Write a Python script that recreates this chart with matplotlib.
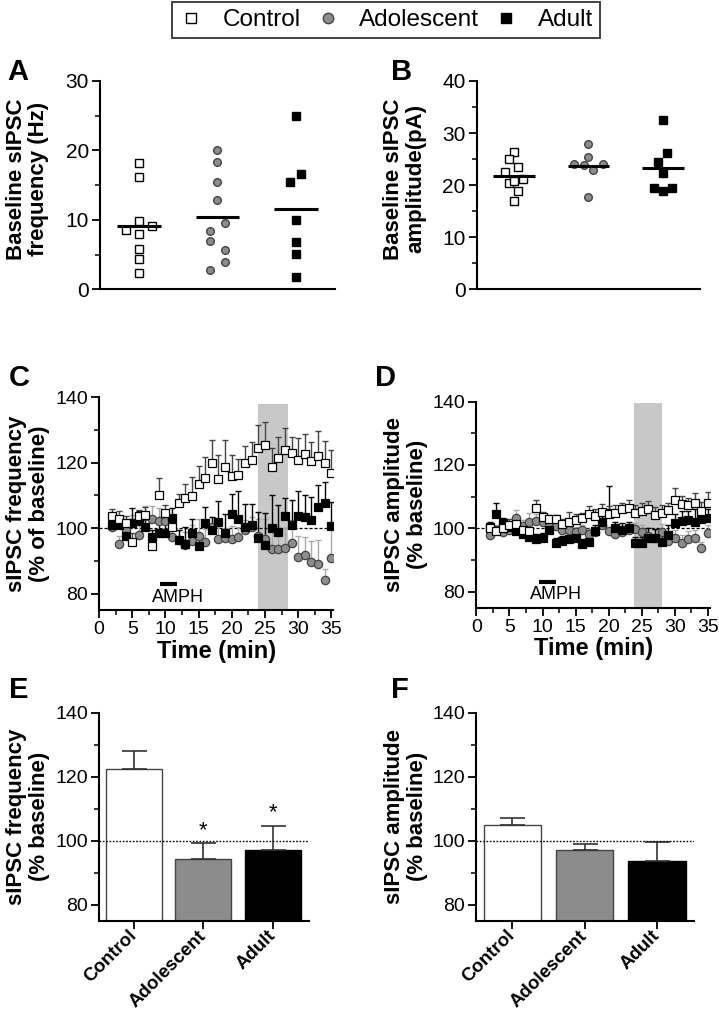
import numpy as np
import matplotlib
matplotlib.use("Agg")
import matplotlib.pyplot as plt
import matplotlib.ticker as ticker
from matplotlib.lines import Line2D

plt.rcParams["font.family"] = ["Liberation Sans", "DejaVu Sans"]

GROUPS = ["Control", "Adolescent", "Adult"]

# A: baseline frequency (Hz), per cell, with small horizontal jitter
freq_ctrl = [18.2, 16.2, 9.9, 8.6, 9.1, 7.9, 5.8, 4.4, 2.3]
freq_ctrl_dx = [0, 0, 0, -0.17, 0.17, 0, 0, 0, 0]
freq_adol = [20.0, 18.3, 15.5, 12.9, 9.5, 8.4, 7.0, 5.6, 3.9, 2.8]
freq_adol_dx = [0, 0, 0, 0, 0.09, -0.09, -0.09, 0.09, 0.09, -0.09]
freq_adul = [24.9, 16.6, 15.4, 10.0, 6.8, 5.1, 1.8]
freq_adul_dx = [0, 0.07, -0.07, 0, 0, 0, 0]

# B: baseline amplitude (pA)
amp_ctrl = [26.3, 25.0, 23.4, 22.5, 20.5, 20.8, 21.2, 18.9, 16.9]
amp_ctrl_dx = [0, -0.06, 0.06, -0.12, -0.06, 0, 0.12, 0.06, 0]
amp_adol = [27.9, 25.4, 24.1, 23.9, 24.0, 22.9, 17.8]
amp_adol_dx = [0, 0, -0.19, -0.06, 0.19, 0.06, 0]
amp_adul = [32.6, 26.1, 24.5, 22.4, 19.5, 19.4, 18.9]
amp_adul_dx = [0, 0.06, -0.06, 0, -0.12, 0.12, 0]

# C/D: time course (% baseline), one point per minute
time_min = list(range(2, 36))

c_ctrl = [103.6, 102.8, 101.6, 95.7, 103.6, 104.0, 94.5, 110.2, 104.8, 100.5, 107.7, 109.2,
          109.9, 113.5, 115.3, 119.9, 115.0, 118.8, 116.0, 116.2, 119.9, 120.9, 124.4, 125.5,
          118.7, 121.4, 123.9, 122.9, 120.7, 122.7, 120.4, 122.1, 119.9, 117.0]
c_ctrl_err = [2.4, 2.6, 2.0, 3.0, 2.0, 2.5, 3.0, 5.0, 2.4, 2.0, 2.8, 4.3, 5.6, 5.5, 6.4, 7.1,
              7.4, 8.2, 6.4, 5.0, 5.3, 5.3, 7.0, 6.8, 5.7, 6.3, 6.6, 4.8, 6.8, 6.1, 5.9, 7.6,
              6.8, 6.9]
c_adol = [100.5, 95.2, 99.5, 101.6, 98.0, 103.8, 102.8, 102.2, 102.1, 97.5, 96.5, 95.0, 96.0,
          97.7, 95.7, 100.5, 96.7, 97.0, 96.7, 97.5, 99.5, 100.3, 97.8, 96.8, 93.8, 93.8, 94.0,
          95.4, 91.4, 91.9, 89.6, 89.2, 84.3, 90.9]
c_adol_err = [2.0, 2.5, 3.0, 2.5, 3.0, 3.0, 4.0, 4.0, 3.0, 3.0, 3.0, 4.0, 5.0, 5.0, 4.0, 3.0,
              4.0, 3.0, 4.0, 3.0, 3.0, 3.0, 5.0, 6.0, 6.0, 5.0, 6.0, 7.0, 6.3, 5.6, 6.4, 7.3,
              3.3, 9.0]
c_adul = [100.9, 100.9, 97.8, 101.6, 102.2, 100.3, 97.5, 98.7, 98.7, 103.1, 96.5, 95.3, 98.7,
          94.7, 101.6, 99.5, 101.9, 98.7, 104.3, 102.8, 100.5, 101.1, 97.0, 94.8, 100.0, 99.0,
          103.8, 101.0, 103.6, 103.5, 102.6, 106.5, 107.7, 100.8]
c_adul_err = [3.0, 3.0, 3.0, 4.5, 3.0, 3.0, 2.0, 3.0, 3.0, 3.0, 3.0, 5.0, 4.0, 3.0, 5.0, 4.0,
              6.3, 5.6, 6.2, 8.7, 7.0, 6.3, 8.0, 10.0, 10.0, 8.0, 5.5, 7.6, 7.8, 6.6, 7.0, 6.8,
              6.4, 7.2]

d_ctrl = [100.0, 99.0, 100.0, 101.0, 101.2, 99.5, 99.0, 106.4, 103.6, 102.8, 102.8, 101.3,
          102.0, 102.6, 103.2, 104.5, 104.0, 105.2, 104.5, 104.9, 106.0, 106.3, 104.8, 105.6,
          106.1, 104.3, 104.8, 105.9, 108.9, 107.8, 107.2, 108.1, 105.3, 108.0]
d_ctrl_err = [1.5, 1.5, 1.5, 2.0, 2.0, 1.5, 1.5, 2.6, 1.5, 1.5, 1.5, 1.5, 3.0, 2.0, 1.5, 2.5,
              2.0, 2.5, 2.5, 2.5, 2.0, 2.5, 2.5, 2.5, 2.5, 2.5, 2.5, 2.0, 3.7, 2.5, 2.5, 3.0,
              3.0, 3.5]
d_adol = [97.8, 99.5, 98.7, 99.5, 103.2, 100.7, 101.9, 102.4, 102.0, 100.6, 100.6, 99.5, 99.4,
          98.8, 99.5, 98.1, 98.7, 101.0, 99.0, 98.2, 98.9, 99.4, 99.6, 98.9, 97.7, 97.0, 98.7,
          96.0, 96.8, 95.4, 96.7, 96.8, 93.7, 98.6]
d_adol_err = [1.5, 1.5, 1.5, 2.0, 2.5, 2.0, 3.0, 2.0, 2.0, 1.5, 1.5, 1.5, 1.5, 1.5, 1.5, 1.5,
              1.5, 2.0, 1.5, 1.5, 1.5, 1.5, 2.0, 2.0, 2.5, 2.5, 2.5, 2.5, 2.5, 2.5, 2.5, 2.5,
              2.0, 2.5]
d_adul = [100.5, 104.4, 101.7, 100.4, 99.0, 98.2, 97.1, 96.7, 97.0, 99.5, 95.3, 96.0, 96.5,
          96.8, 95.0, 95.8, 99.0, 102.0, 104.7, 100.0, 99.5, 100.0, 95.3, 95.3, 97.0, 96.8,
          95.5, 98.0, 101.5, 102.4, 102.6, 102.1, 102.8, 103.1]
d_adul_err = [1.5, 3.7, 1.5, 1.5, 1.5, 1.5, 1.5, 1.5, 1.5, 1.5, 1.5, 1.5, 1.5, 1.5, 1.5, 1.5,
              2.0, 2.0, 8.7, 2.0, 2.0, 2.0, 2.0, 2.0, 3.0, 3.0, 3.0, 3.0, 3.0, 3.0, 3.0, 4.0,
              3.0, 3.0]

# E/F: mean % baseline during the shaded window
e_mean = [122.3, 94.5, 97.3]
e_err = [5.8, 4.7, 7.5]
f_mean = [105.1, 97.3, 93.7]
f_err = [2.2, 1.7, 6.0]

FILL = {"Control": "white", "Adolescent": "#8c8c8c", "Adult": "black"}
EDGE = {"Control": "black", "Adolescent": "#444444", "Adult": "black"}
MARK = {"Control": "s", "Adolescent": "o", "Adult": "s"}
ECOL = {"Control": "#444444", "Adolescent": "#aaaaaa", "Adult": "black"}

LABEL_FS = 16


def style_axes(ax, fs):
    for s in ["top", "right"]:
        ax.spines[s].set_visible(False)
    for s in ["left", "bottom"]:
        ax.spines[s].set_linewidth(1.5)
    ax.tick_params(which="major", direction="out", length=6, width=1.3, labelsize=fs, pad=2)
    ax.tick_params(which="minor", direction="out", length=3.5, width=1.1)


def panel_letter(x, y, s):
    # y is the baseline in pixels from the top
    fig.text(x / 719, 1 - y / 1016, s, fontsize=21, fontweight="bold",
             ha="left", va="baseline")


fig = plt.figure(figsize=(7.19, 10.16), dpi=100)


# ---------- A / B scatter ----------
def scatter_panel(rect, data, dxs, ylim, major, minor, ylabel):
    ax = fig.add_axes(rect)
    style_axes(ax, 15)
    for i, (g, vals, dx) in enumerate(zip(GROUPS, data, dxs)):
        x = np.full(len(vals), i + 1.0) + np.array(dx)
        ax.plot(x, vals, linestyle="none", marker=MARK[g], ms=5.5,
                mfc=FILL[g], mec=EDGE[g], mew=1.0, zorder=3)
        m = np.mean(vals)
        ax.hlines(m, i + 1 - 0.28, i + 1 + 0.28, color="black", lw=2.2, zorder=4)
    ax.set_xlim(0.5, 3.5)
    ax.set_ylim(*ylim)
    ax.set_xticks([])
    ax.yaxis.set_major_locator(ticker.MultipleLocator(major))
    ax.yaxis.set_minor_locator(ticker.MultipleLocator(minor))
    ax.set_ylabel(ylabel, fontsize=LABEL_FS, fontweight="bold", linespacing=1.1)
    return ax

axA = scatter_panel([0.1391, 0.7153, 0.3268, 0.205],
                    [freq_ctrl, freq_adol, freq_adul],
                    [freq_ctrl_dx, freq_adol_dx, freq_adul_dx],
                    (0, 30), 10, 5, "Baseline sIPSC\nfrequency (Hz)")
axA.yaxis.set_label_coords(-0.215, 0.53)
axB = scatter_panel([0.663, 0.7153, 0.3106, 0.205],
                    [amp_ctrl, amp_adol, amp_adul],
                    [amp_ctrl_dx, amp_adol_dx, amp_adul_dx],
                    (0, 40), 10, 5, "Baseline sIPSC\namplitude(pA)")
axB.yaxis.set_label_coords(-0.225, 0.53)


# ---------- C / D time courses ----------
def time_panel(rect, series, errs, ylabel, ylim, shade, shade_top, amph):
    ax = fig.add_axes(rect)
    style_axes(ax, 14)
    ax.axvspan(shade[0], shade[1], ymin=0, ymax=(shade_top - ylim[0]) / (ylim[1] - ylim[0]),
               color="#c8c8c8", lw=0, zorder=0)
    ax.axhline(100, color="black", lw=0.9, ls=(0, (2.5, 1.5)), zorder=1)
    order = ["Adolescent", "Adult", "Control"]
    for g in order:
        i = GROUPS.index(g)
        y = np.array(series[i])
        e = np.array(errs[i])
        ax.errorbar(time_min, y, yerr=[np.zeros_like(e), e], fmt="none", ecolor=ECOL[g],
                    elinewidth=1.0, capsize=2.5, capthick=1.0, zorder=2)
    for g in order:
        i = GROUPS.index(g)
        ax.plot(time_min, series[i], linestyle="none", marker=MARK[g],
                ms=5.5 if MARK[g] == "s" else 6, mfc=FILL[g], mec=EDGE[g], mew=0.9, zorder=3)
    ax.plot(amph[0], [83, 83], color="black", lw=3, solid_capstyle="butt")
    ax.text(amph[1], 79, "AMPH", fontsize=13, ha="center", va="center")
    ax.set_xlim(0, 35.3)
    ax.set_ylim(*ylim)
    ax.xaxis.set_major_locator(ticker.MultipleLocator(5))
    ax.xaxis.set_minor_locator(ticker.MultipleLocator(2.5))
    ax.yaxis.set_major_locator(ticker.MultipleLocator(20))
    ax.yaxis.set_minor_locator(ticker.MultipleLocator(10))
    ax.set_xlabel("Time (min)", fontsize=17, fontweight="bold", labelpad=1)
    ax.set_ylabel(ylabel, fontsize=LABEL_FS, fontweight="bold", linespacing=1.1)
    return ax

axC = time_panel([0.1377, 0.3996, 0.3259, 0.2096],
                 [c_ctrl, c_adol, c_adul], [c_ctrl_err, c_adol_err, c_adul_err],
                 "sIPSC frequency\n(% of baseline)", (75.1, 140), (23.9, 28.4), 138,
                 ([9.25, 11.8], 11.9))
axC.yaxis.set_label_coords(-0.209, 0.5)
axD = time_panel([0.6625, 0.4019, 0.325, 0.2028],
                 [d_ctrl, d_adol, d_adul], [d_ctrl_err, d_adol_err, d_adul_err],
                 "sIPSC amplitude\n(% baseline)", (74.9, 140), (23.8, 28.1), 139.7,
                 ([9.4, 12.0], 12.1))
axD.yaxis.set_label_coords(-0.207, 0.5)


# ---------- E / F bars ----------
def bar_panel(rect, means, errs, ylabel, stars=None):
    ax = fig.add_axes(rect)
    style_axes(ax, 14)
    x = np.arange(3)
    ax.axhline(100, color="black", lw=1.0, ls=(0, (1.2, 1.2)), zorder=4)
    ax.bar(x, means, width=0.8, color=[FILL[g] for g in GROUPS],
           edgecolor=["#444444", "#444444", "black"], linewidth=1.0, zorder=2)
    ax.errorbar(x, means, yerr=[np.zeros(3), errs], fmt="none", ecolor="#333333",
                elinewidth=1.2, capsize=9, capthick=1.2, zorder=3)
    if stars:
        for xi in stars:
            ax.text(xi, means[xi] + errs[xi] + 0.6, "*", fontsize=16, ha="center", va="bottom")
    ax.set_xlim(-0.5, 2.52)
    ax.set_ylim(75.1, 140)
    ax.set_xticks(x)
    ax.set_xticklabels(GROUPS, rotation=45, ha="right", va="center", rotation_mode="anchor",
                       fontsize=13.5, fontweight="bold")
    ax.tick_params(axis="x", which="major", pad=3)
    ax.yaxis.set_major_locator(ticker.MultipleLocator(20))
    ax.yaxis.set_minor_locator(ticker.MultipleLocator(10))
    ax.set_ylabel(ylabel, fontsize=LABEL_FS, fontweight="bold", linespacing=1.1)
    return ax

axE = bar_panel([0.1377, 0.0938, 0.292, 0.2047], e_mean, e_err,
                "sIPSC frequency\n(% baseline)", stars=[1, 2])
axE.yaxis.set_label_coords(-0.233, 0.5)
axF = bar_panel([0.6625, 0.0938, 0.3032, 0.2047], f_mean, f_err,
                "sIPSC amplitude\n(% baseline)")
axF.yaxis.set_label_coords(-0.222, 0.5)

# panel letters
panel_letter(7, 80, "A")
panel_letter(391, 80, "B")
panel_letter(9, 386, "C")
panel_letter(375, 386, "D")
panel_letter(9, 698, "E")
panel_letter(391, 698, "F")

# legend
handles = [Line2D([], [], linestyle="none", marker=MARK[g], ms=7 if g != "Adolescent" else 7.5,
                  mfc=FILL[g], mec=EDGE[g], mew=1.0) for g in GROUPS]
leg = fig.legend(handles, GROUPS, loc="upper center", bbox_to_anchor=(386 / 719, 0.9995),
                 ncol=3, frameon=True, fancybox=False, fontsize=17.5, handlelength=1.0,
                 handletextpad=0.8, columnspacing=0.6, borderpad=0.3, borderaxespad=0.05)
leg.get_frame().set_edgecolor("black")
leg.get_frame().set_linewidth(1.3)

fig.savefig("out.png", dpi=100)
